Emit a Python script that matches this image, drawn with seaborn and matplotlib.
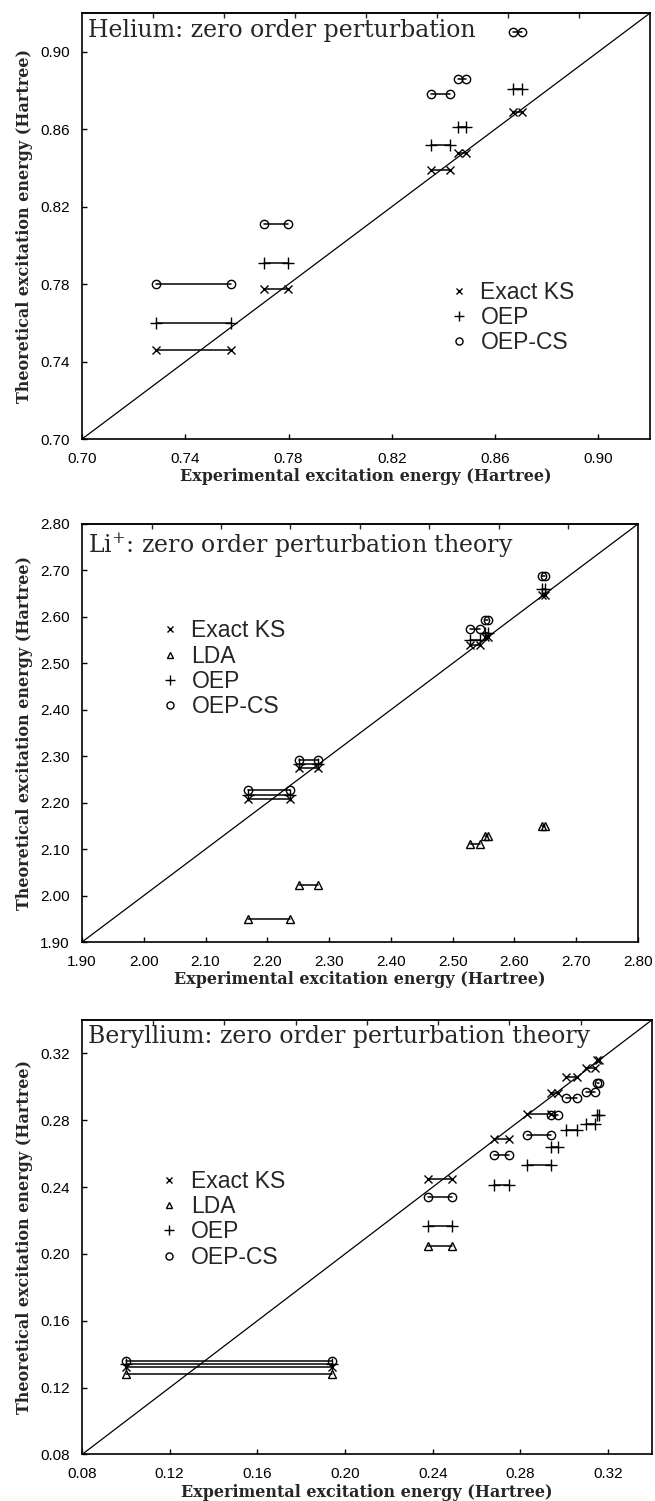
import numpy as np
import pandas as pd
import matplotlib
matplotlib.use("Agg")
import matplotlib.pyplot as plt
import seaborn as sns
from matplotlib.lines import Line2D

# ---- data (Hartree) ----
# each entry is one transition: two experimental values joined by a line, one theory value
he_x1 = [0.7285, 0.7706, 0.8350, 0.8456, 0.8670]
he_x2 = [0.7578, 0.7799, 0.8424, 0.8486, 0.8705]
he_ks = [0.746, 0.7775, 0.839, 0.8475, 0.8688]
he_oep = [0.760, 0.791, 0.852, 0.861, 0.881]
he_oepcs = [0.780, 0.811, 0.878, 0.886, 0.910]

li_x1 = [2.169, 2.252, 2.528, 2.552, 2.645]
li_x2 = [2.236, 2.282, 2.545, 2.558, 2.650]
li_ks = [2.208, 2.275, 2.540, 2.556, 2.648]
li_lda = [1.950, 2.022, 2.110, 2.128, 2.150]
li_oep = [2.217, 2.283, 2.550, 2.565, 2.660]
li_oepcs = [2.228, 2.292, 2.575, 2.594, 2.688]

be_x1 = [0.100, 0.238, 0.268, 0.283, 0.294, 0.301, 0.310, 0.315]
be_x2 = [0.194, 0.249, 0.275, 0.294, 0.297, 0.306, 0.314, 0.316]
be_ks = [0.1325, 0.245, 0.269, 0.284, 0.296, 0.306, 0.311, 0.316]
be_lda = [0.128, 0.205]
be_oep = [0.134, 0.217, 0.241, 0.253, 0.264, 0.274, 0.278, 0.283]
be_oepcs = [0.136, 0.234, 0.259, 0.271, 0.283, 0.293, 0.297, 0.302]

he_ticks = [0.70, 0.74, 0.78, 0.82, 0.86, 0.90]
li_ticks = [1.90, 2.00, 2.10, 2.20, 2.30, 2.40, 2.50, 2.60, 2.70, 2.80]
be_ticks = [0.08, 0.12, 0.16, 0.20, 0.24, 0.28, 0.32]

marker_map = {"Exact KS": "x", "LDA": "^", "OEP": "+", "OEP-CS": "o"}
marker_size = {"Exact KS": 5.5, "LDA": 5.5, "OEP": 8, "OEP-CS": 6}


def long_frame(x1, x2, series):
    rows = []
    for name, ys in series.items():
        for i, y in enumerate(ys):
            rows.append({"x": x1[i], "y": y, "series": name, "unit": f"{name}_{i}"})
            rows.append({"x": x2[i], "y": y, "series": name, "unit": f"{name}_{i}"})
    return pd.DataFrame(rows)


sns.set_style("ticks")
plt.rcParams["font.family"] = ["Liberation Sans", "DejaVu Sans"]
plt.rcParams["mathtext.fontset"] = "dejavuserif"

fig = plt.figure(figsize=(6.55, 15.01), dpi=100)

panels = [
    dict(rect=[0.1252, 0.7075, 0.8672, 0.2838], lim=(0.70, 0.92), ticks=he_ticks,
         df=long_frame(he_x1, he_x2, {"Exact KS": he_ks, "OEP": he_oep, "OEP-CS": he_oepcs}),
         title="Helium: zero order perturbation", ty=0.958,
         leg=["Exact KS", "OEP", "OEP-CS"], leg_xy=(0.643, 0.372)),
    dict(rect=[0.1252, 0.3724, 0.8488, 0.2785], lim=(1.90, 2.80), ticks=li_ticks,
         df=long_frame(li_x1, li_x2, {"Exact KS": li_ks, "LDA": li_lda, "OEP": li_oep, "OEP-CS": li_oepcs}),
         title=r"Li$^{+}$: zero order perturbation theory", ty=0.948,
         leg=["Exact KS", "LDA", "OEP", "OEP-CS"], leg_xy=(0.137, 0.772)),
    dict(rect=[0.1252, 0.0310, 0.8701, 0.2895], lim=(0.08, 0.34), ticks=be_ticks,
         df=long_frame(be_x1, be_x2, {"Exact KS": be_ks, "LDA": be_lda, "OEP": be_oep, "OEP-CS": be_oepcs}),
         title="Beryllium: zero order perturbation theory", ty=0.962,
         leg=["Exact KS", "LDA", "OEP", "OEP-CS"], leg_xy=(0.133, 0.655)),
]

for p in panels:
    ax = fig.add_axes(p["rect"])
    lo, hi = p["lim"]
    ax.axline((lo, lo), slope=1, color="black", lw=0.9, zorder=1)

    for name, sub in p["df"].groupby("series", sort=False):
        sns.lineplot(data=sub, x="x", y="y", units="unit", estimator=None, sort=False,
                     color="black", lw=1.1, marker=marker_map[name], ms=marker_size[name],
                     mfc="none", mec="black", mew=1.0, legend=False, ax=ax)

    ax.set_xlim(lo, hi)
    ax.set_ylim(lo, hi)
    ax.set_xticks(p["ticks"])
    ax.set_yticks(p["ticks"])
    fmt = [f"{t:.2f}" for t in p["ticks"]]
    ax.set_xticklabels(fmt)
    ax.set_yticklabels(fmt)
    ax.tick_params(direction="in", length=3.5, width=1.0, labelsize=11, pad=9, colors="black")
    for s in ax.spines.values():
        s.set_linewidth(1.2)
        s.set_color("black")

    top = ax.secondary_xaxis("top")
    top.set_xticks(list(np.linspace(lo, hi, 9)[1:-1]))
    top.tick_params(direction="in", length=3.5, width=1.0, labeltop=False)
    top.spines["top"].set_linewidth(1.2)

    ax.set_xlabel("Experimental excitation energy (Hartree)", family="DejaVu Serif",
                  weight="bold", fontsize=11.5, labelpad=2)
    ax.set_ylabel("Theoretical excitation energy (Hartree)", family="DejaVu Serif",
                  weight="bold", fontsize=11.5, labelpad=5)

    ax.text(0.011, p["ty"], p["title"], transform=ax.transAxes, family="DejaVu Serif",
            fontsize=17, va="center", ha="left")

    handles = [Line2D([], [], ls="none", marker=marker_map[n], ms=marker_size[n] * 0.85,
                      mfc="none", mec="black", mew=1.0) for n in p["leg"]]
    ax.legend(handles, p["leg"], loc="upper left", bbox_to_anchor=p["leg_xy"],
              frameon=False, fontsize=16.5, handlelength=1.0, handletextpad=0.45,
              labelspacing=0.1, borderpad=0, borderaxespad=0)

fig.savefig("out.png", dpi=100)
